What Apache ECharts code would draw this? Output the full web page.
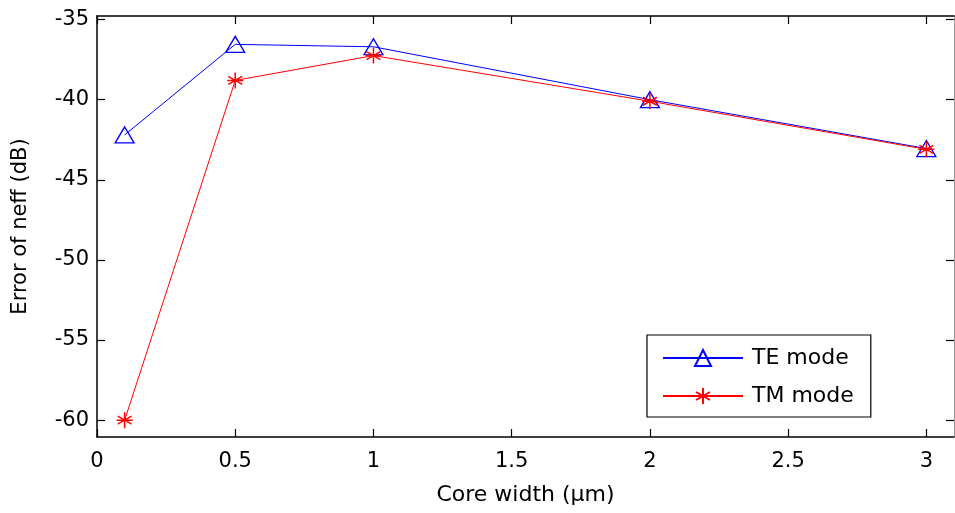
<!DOCTYPE html>
<html>
<head>
<meta charset="utf-8">
<script src="https://cdn.jsdelivr.net/npm/echarts@6/dist/echarts.min.js"></script>
<style>html,body{margin:0;padding:0;background:#fff;}#c{width:955px;height:513px;}</style>
</head>
<body>
<div id="c"></div>
<script>
const coreWidth = [0.1, 0.5, 1, 2, 3];
const teMode = [-42.2, -36.55, -36.7, -40.0, -43.05];
const tmMode = [-60.0, -38.8, -37.25, -40.1, -43.1];
const xTicks = [0, 0.5, 1, 1.5, 2, 2.5, 3];
const yTicks = [-60, -55, -50, -45, -40, -35];
const seriesNames = ['TE mode', 'TM mode'];

const font = '"DejaVu Sans", sans-serif';
const chart = echarts.init(document.getElementById('c'), null, {renderer: 'canvas'});
const asterisk = 'path://M0,-1L0,1M-0.87,-0.5L0.87,0.5M-0.87,0.5L0.87,-0.5M-1,0L1,0';
const tri = 'path://M0,-1L0.866,0.5L-0.866,0.5Z';

function pairs(xs, ys){ return xs.map((x,i)=>[x, ys[i]]); }

const xMin = 0, xMax = 3.1, yMin = -61.05, yMax = -34.78;

function ticks(vals){
  return {show: true, inside: true, length: 8, customValues: vals, lineStyle: {color: '#000', width: 1.2}};
}
function line(color, width){
  return {show: true, onZero: false, lineStyle: {color: color, width: width}};
}

chart.setOption({
  animation: false,
  backgroundColor: '#fff',
  grid: {left: 97, top: 16, right: 1, bottom: 76, containLabel: false},
  xAxis: [{
    type: 'value', min: xMin, max: xMax, position: 'bottom',
    name: 'Core width (\u03bcm)', nameLocation: 'middle', nameGap: 47,
    nameTextStyle: {fontFamily: font, fontSize: 22, color: '#000'},
    axisLine: line('#000', 1.5),
    axisTick: ticks(xTicks),
    axisLabel: {customValues: xTicks, fontFamily: font, fontSize: 21, color: '#000', margin: 14},
    splitLine: {show: false}
  }, {
    type: 'value', min: xMin, max: xMax, position: 'top',
    axisLine: line('#000', 1.5),
    axisTick: ticks(xTicks),
    axisLabel: {show: false}, splitLine: {show: false}
  }],
  yAxis: [{
    type: 'value', min: yMin, max: yMax, position: 'left',
    name: 'Error of neff (dB)', nameLocation: 'middle', nameGap: 66, nameRotate: 90,
    nameTextStyle: {fontFamily: font, fontSize: 21, color: '#000'},
    axisLine: line('#000', 1.5),
    axisTick: ticks(yTicks),
    axisLabel: {customValues: yTicks, fontFamily: font, fontSize: 21, color: '#000', margin: 8},
    splitLine: {show: false}
  }, {
    type: 'value', min: yMin, max: yMax, position: 'right',
    axisLine: line('#999', 1),
    axisTick: ticks(yTicks),
    axisLabel: {show: false}, splitLine: {show: false}
  }],
  legend: {
    orient: 'vertical', left: 647, top: 335,
    data: seriesNames,
    padding: [12, 17, 10, 15], itemGap: 16,
    itemWidth: 80, itemHeight: 20,
    borderColor: '#000', borderWidth: 1.2, backgroundColor: '#fff',
    textStyle: {fontFamily: font, fontSize: 22, color: '#000', padding: [0, 0, 0, 4]}
  },
  series: [{
    name: seriesNames[0], type: 'line', data: pairs(coreWidth, teMode),
    symbol: tri, symbolSize: [19, 16], symbolKeepAspect: false,
    lineStyle: {color: '#0000ff', width: 1},
    itemStyle: {color: 'rgba(0,0,0,0)', borderColor: '#0000ff', borderWidth: 1.3},
    z: 3
  }, {
    name: seriesNames[1], type: 'line', data: pairs(coreWidth, tmMode),
    symbol: asterisk, symbolSize: 16,
    lineStyle: {color: '#ff0000', width: 1},
    itemStyle: {color: 'rgba(0,0,0,0)', borderColor: '#ff0000', borderWidth: 1.5},
    z: 4
  }]
});
</script>
</body>
</html>
